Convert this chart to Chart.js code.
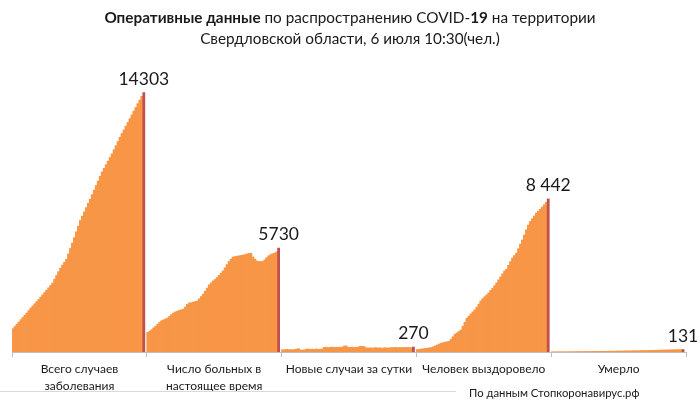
<!DOCTYPE html>
<html>
<head>
<meta charset="utf-8">
<script src="https://cdn.jsdelivr.net/npm/chart.js@4"></script>
<style>
  body { margin:0; background:#fff; }
  #wrap { position:relative; width:700px; height:401px; font-family:Lato, "Open Sans", sans-serif; color:#1a1a1a; }
  #title { position:absolute; left:0; top:7px; width:700px; text-align:center; font-size:15.3px; line-height:21px; }
  #source { position:absolute; left:469px; top:386px; font-size:11.3px; color:#1a1a1a; }
  #rule { position:absolute; left:0; top:391px; width:456px; height:1px; background:#d9d9d9; }
  canvas { position:absolute; left:0; top:0; }
</style>
</head>
<body>
<div id="wrap">
  <canvas id="c" width="700" height="401"></canvas>
  <div id="title"><b>Оперативные данные</b> по распространению COVID-<b>19</b> на территории<br>Свердловской области, 6 июля 10:30(чел.)</div>
  <div id="rule"></div>
  <div id="source">По данным Стопкоронавирус.рф</div>
</div>
<script>
// Group names on the axis
const groupNames = [
  ['Всего случаев', 'заболевания'],
  ['Число больных в', 'настоящее время'],
  'Новые случаи за сутки',
  'Человек выздоровело',
  'Умерло'
];
// Labels over the last bar of each group
const lastLabels = ['14303', '5730', '270', '8 442', '131'];

// Daily values, 1 May .. 6 July
const totalCases = [1280,1400,1530,1650,1780,1900,2030,2150,2280,2420,2540,2660,2780,2900,3030,3150,3280,3410,3540,3670,
  3800,4010,4220,4430,4620,4790,4950,5110,5410,5710,6010,6310,6630,6940,7250,7490,7730,7960,8200,8430,
  8680,8930,9180,9430,9690,9930,10130,10330,10530,10730,10930,11160,11380,11610,11840,12050,12250,12460,12660,12870,
  13080,13290,13490,13700,13900,14100,14303];
const activeCases = [1080,1150,1230,1330,1420,1530,1630,1720,1770,1820,1870,1960,2060,2150,2210,2250,2290,2330,2360,2480,
  2620,2700,2720,2750,2780,2810,2930,3060,3190,3350,3520,3700,3810,3920,4000,4110,4230,4350,4470,4640,
  4820,4990,5120,5230,5260,5280,5300,5320,5340,5370,5400,5430,5450,5240,5120,5020,4990,4990,4990,5080,
  5200,5300,5370,5420,5450,5520,5730];
const newCases = [125,110,140,120,130,105,135,150,180,110,100,115,150,160,140,155,135,165,145,150,
  170,250,265,240,255,270,245,260,250,265,255,320,335,260,250,270,245,255,260,305,
  315,300,230,215,225,210,220,235,215,225,205,220,230,210,225,240,235,250,230,245,
  240,235,250,245,240,235,270];
const recovered = [130,145,160,175,190,205,220,240,280,330,380,430,480,510,540,560,580,700,840,975,
  1050,1130,1215,1420,1640,1860,1980,2100,2210,2320,2470,2640,2815,2940,3050,3150,3260,3390,3520,3660,
  3810,3975,4140,4310,4470,4560,4780,4990,5180,5320,5450,5700,5950,6180,6450,6740,7000,7200,7350,7500,
  7660,7760,7870,7990,8120,8250,8442];
const deaths = [6,6,7,8,9,10,10,11,12,13,14,15,16,18,19,20,22,23,24,26,
  27,28,30,31,33,34,36,37,39,41,42,44,46,48,50,52,54,56,58,60,
  62,64,66,68,71,73,75,78,80,83,86,89,92,95,98,101,104,107,109,112,
  115,118,120,123,126,128,131];

const ORANGE = '#F79646';
const RED = '#C0504D';

// Flatten the groups into one bar series with an empty slot after each group
const values = [], colors = [], lastIdx = [];
[totalCases, activeCases, newCases, recovered, deaths].forEach(s => {
  s.forEach((v, i) => {
    values.push(v);
    colors.push(i === s.length - 1 ? RED : ORANGE);
  });
  lastIdx.push(values.length - 1);
  values.push(null);
  colors.push(ORANGE);
});

const lastValueLabels = {
  id: 'lastValueLabels',
  afterDatasetsDraw(chart) {
    const ctx = chart.ctx;
    const meta = chart.getDatasetMeta(0);
    ctx.save();
    ctx.font = '17.5px Lato, "Open Sans", sans-serif';
    ctx.fillStyle = '#1a1a1a';
    ctx.textAlign = 'center';
    ctx.textBaseline = 'alphabetic';
    lastIdx.forEach((idx, g) => {
      const bar = meta.data[idx];
      ctx.fillText(lastLabels[g], bar.x, bar.y - 8);
    });
    ctx.restore();
  }
};

new Chart(document.getElementById('c'), {
  type: 'bar',
  data: {
    labels: values.map((_, i) => i),
    datasets: [{
      data: values,
      backgroundColor: colors,
      borderWidth: 0,
      barPercentage: 1,
      categoryPercentage: 1,
      inflateAmount: 0.4
    }]
  },
  options: {
    responsive: false,
    animation: false,
    devicePixelRatio: 1,
    layout: { padding: { left: 12, right: 14, top: 62, bottom: 1 } },
    plugins: { legend: { display: false }, tooltip: { enabled: false }, title: { display: false } },
    scales: {
      x: { display: false },
      x2: {
        type: 'category',
        position: 'bottom',
        labels: groupNames,
        offset: true,
        afterFit(scale) { scale.height = 48; },
        grid: { offset: true, drawOnChartArea: false, drawTicks: true, tickLength: 5, color: '#bfbfbf' },
        border: { display: true, color: '#bfbfbf' },
        ticks: { color: '#1a1a1a', font: { family: 'Lato, "Open Sans", sans-serif', size: 12, lineHeight: 1.42 }, padding: 4, maxRotation: 0, autoSkip: false }
      },
      y: { display: false, min: 0, max: 16000 }
    }
  },
  plugins: [lastValueLabels]
});
</script>
</body>
</html>
